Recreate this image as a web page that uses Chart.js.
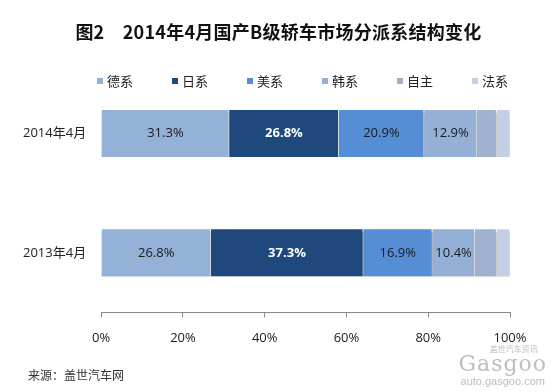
<!DOCTYPE html>
<html>
<head>
<meta charset="utf-8">
<title>2014年4月国产B级轿车市场分派系结构变化</title>
<style>
    body {
        margin: 0;
        background: #ffffff;
        font-family: "Open Sans", "Noto Sans CJK SC", sans-serif;
    }
    #wrap {
        position: relative;
        width: 557px;
        height: 392px;
        overflow: hidden;
    }
    #title {
        position: absolute;
        top: 19px;
        left: 0;
        width: 557px;
        text-align: center;
        padding-left: 0;
        font-family: "Noto Sans CJK SC", sans-serif;
        font-weight: bold;
        font-size: 18px;
        line-height: 24px;
        letter-spacing: 0.25px;
        color: #111;
    }
    #legend {
        position: absolute;
        top: 73px;
        left: 0;
        width: 557px;
        height: 16px;
    }
    .item {
        position: absolute;
        top: 0;
        font-size: 13px;
        line-height: 16px;
        color: #222;
        white-space: nowrap;
    }
    .item span {
        display: inline-block;
        width: 6px;
        height: 6px;
        margin-right: 4px;
        vertical-align: 2px;
    }
    #source {
        position: absolute;
        left: 28px;
        top: 366px;
        font-family: "Noto Sans CJK SC", sans-serif;
        font-size: 12px;
        color: #333;
    }
    #mark {
        position: absolute;
        right: 10px;
        top: 344px;
        color: #b9bdc5;
        text-align: center;
    }
    #mark .s { font-size: 8px; line-height: 9px; padding-left: 22px; }
    #mark .g { font-family: "DejaVu Serif", serif; font-size: 22px; line-height: 22px; letter-spacing: 1px; }
    #mark .u { font-family: "Liberation Sans", sans-serif; font-size: 11px; line-height: 13px; }
</style>
</head>
<body>
<div id="wrap">
    <canvas id="chart" width="557" height="392"></canvas>
    <div id="title">图2　2014年4月国产B级轿车市场分派系结构变化</div>
    <div id="legend"></div>
    <div id="source">来源：盖世汽车网</div>
    <div id="mark"><div class="s">盖世汽车资讯</div><div class="g">Gasgoo</div><div class="u">auto.gasgoo.com</div></div>
</div>

<script src="https://cdn.jsdelivr.net/npm/chart.js"></script>
<script>
    const categories = ['2014年4月', '2013年4月'];
    const seriesNames = ['德系', '日系', '美系', '韩系', '自主', '法系'];
    const german = [31.3, 26.8];
    const japanese = [26.8, 37.3];
    const american = [20.9, 16.9];
    const korean = [12.9, 10.4];
    const domestic = [4.8, 5.3];
    const french = [3.3, 3.3];
    const xTicks = [0, 20, 40, 60, 80, 100];

    const seriesValues = [german, japanese, american, korean, domestic, french];
    const colors = ['#94b1d8', '#1f497d', '#558ed5', '#95b0d6', '#a1b2d1', '#c5cfe4'];
    const labelled = [true, true, true, true, false, false];

    // html legend, one item every 75px
    const legend = document.getElementById('legend');
    seriesNames.forEach((name, i) => {
        const el = document.createElement('div');
        el.className = 'item';
        el.style.left = (97 + i * 75) + 'px';
        el.innerHTML = '<span style="background:' + colors[i] + '"></span>' + name;
        legend.appendChild(el);
    });

    const barShadow = {
        id: 'barShadow',
        beforeDatasetsDraw(chart) {
            const ctx = chart.ctx;
            ctx.save();
            ctx.shadowColor = 'rgba(0,0,0,0.45)';
            ctx.shadowOffsetY = 3;
            ctx.shadowBlur = 2;
        },
        afterDatasetsDraw(chart) {
            chart.ctx.restore();
        }
    };

    const segmentLabels = {
        id: 'segmentLabels',
        afterDraw(chart) {
            const ctx = chart.ctx;
            ctx.save();
            ctx.textAlign = 'center';
            ctx.textBaseline = 'middle';
            chart.data.datasets.forEach((ds, i) => {
                if (!labelled[i]) return;
                const meta = chart.getDatasetMeta(i);
                meta.data.forEach((bar, j) => {
                    const cx = (bar.x + bar.base) / 2;
                    if (i === 1) {
                        ctx.fillStyle = '#ffffff';
                        ctx.font = 'bold 13px "Open Sans", sans-serif';
                    } else {
                        ctx.fillStyle = '#1a1a1a';
                        ctx.font = '13px "Open Sans", sans-serif';
                    }
                    ctx.fillText(ds.data[j].toFixed(1) + '%', cx, bar.y);
                });
            });
            ctx.restore();
        }
    };

    new Chart(document.getElementById('chart'), {
        type: 'bar',
        data: {
            labels: categories,
            datasets: seriesNames.map((name, i) => ({
                label: name,
                data: seriesValues[i],
                backgroundColor: colors[i],
                borderColor: '#ffffff',
                borderWidth: { left: 0, right: 1, top: 0, bottom: 0 },
                borderSkipped: false,
                barThickness: 47
            }))
        },
        options: {
            indexAxis: 'y',
            responsive: false,
            animation: false,
            layout: {
                padding: { left: 8, right: 47, top: 74, bottom: 33 }
            },
            plugins: {
                legend: { display: false },
                tooltip: { enabled: false }
            },
            scales: {
                x: {
                    stacked: true,
                    min: 0,
                    max: 100,
                    afterBuildTicks(scale) {
                        scale.ticks = xTicks.map(v => ({ value: v }));
                    },
                    ticks: {
                        padding: 13,
                        color: '#222',
                        font: { family: '"Open Sans", sans-serif', size: 13 },
                        callback: v => v + '%'
                    },
                    grid: {
                        drawOnChartArea: false,
                        color: '#8a8a8a',
                        tickLength: 5
                    },
                    border: { color: '#8a8a8a' }
                },
                y: {
                    stacked: true,
                    ticks: {
                        padding: 15,
                        color: '#222',
                        font: { family: '"Open Sans", "Noto Sans CJK SC", sans-serif', size: 13 }
                    },
                    grid: { display: false, drawTicks: false },
                    border: { display: false }
                }
            }
        },
        plugins: [barShadow, segmentLabels]
    });
</script>
</body>
</html>
